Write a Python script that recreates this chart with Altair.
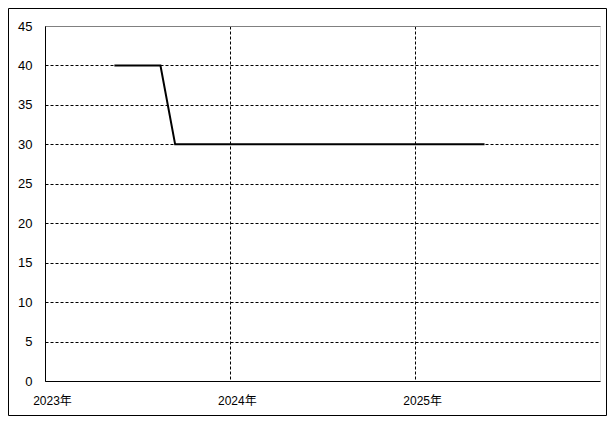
import altair as alt
import pandas as pd

dates = ["2023-05-18", "2023-08-17", "2023-09-15", "2025-05-18"]
values = [40, 40, 30, 30]
x_ticks = ["2023-01-01", "2024-01-01", "2025-01-01"]
y_ticks = [0, 5, 10, 15, 20, 25, 30, 35, 40, 45]

df = pd.DataFrame({"date": pd.to_datetime(dates), "value": values})
FONT = "'Liberation Sans', 'Noto Sans CJK JP', sans-serif"

x_enc = alt.X(
    "date:T",
    scale=alt.Scale(domain=["2023-01-01", "2026-01-01"]),
    axis=alt.Axis(
        title=None, values=x_ticks, format="%Y年", ticks=False,
        labelFont=FONT, labelFontSize=12, labelColor="black",
        labelPadding=14, labelOffset=7, labelAlign="center",
        domainColor="black", gridColor="black", gridDash=[3, 2],
        gridOpacity=1, labelFlush=False,
    ),
)
y_enc = alt.Y(
    "value:Q",
    scale=alt.Scale(domain=[0, 45], nice=False),
    axis=alt.Axis(
        title=None, values=y_ticks, ticks=False,
        labelFont=FONT, labelFontSize=13, labelColor="black",
        labelPadding=13, domainColor="black",
        gridColor={"condition": {"test": "datum.value == 45", "value": "#808080"}, "value": "black"},
        gridDash={"condition": {"test": "datum.value == 45", "value": []}, "value": [3, 2]},
        gridOpacity=1,
    ),
)

line = alt.Chart(df).mark_line(color="black", strokeWidth=2).encode(x=x_enc, y=y_enc)

frame = alt.Chart(pd.DataFrame({"a": [0]})).mark_rect(
    fill=None, stroke="black", strokeWidth=1, clip=False
).encode(
    x=alt.value(-36.5), x2=alt.value(561.5), y=alt.value(-17.5), y2=alt.value(389.5)
)

chart = alt.layer(line, frame).properties(
    width=555, height=355,
    autosize=alt.AutoSizeParams(type="none"),
    padding={"left": 37, "top": 18, "right": 7, "bottom": 35},
).configure_view(stroke="#808080", strokeWidth=1).configure(background="white")

chart.save("out.html", embed_options={"renderer": "svg", "actions": False})
